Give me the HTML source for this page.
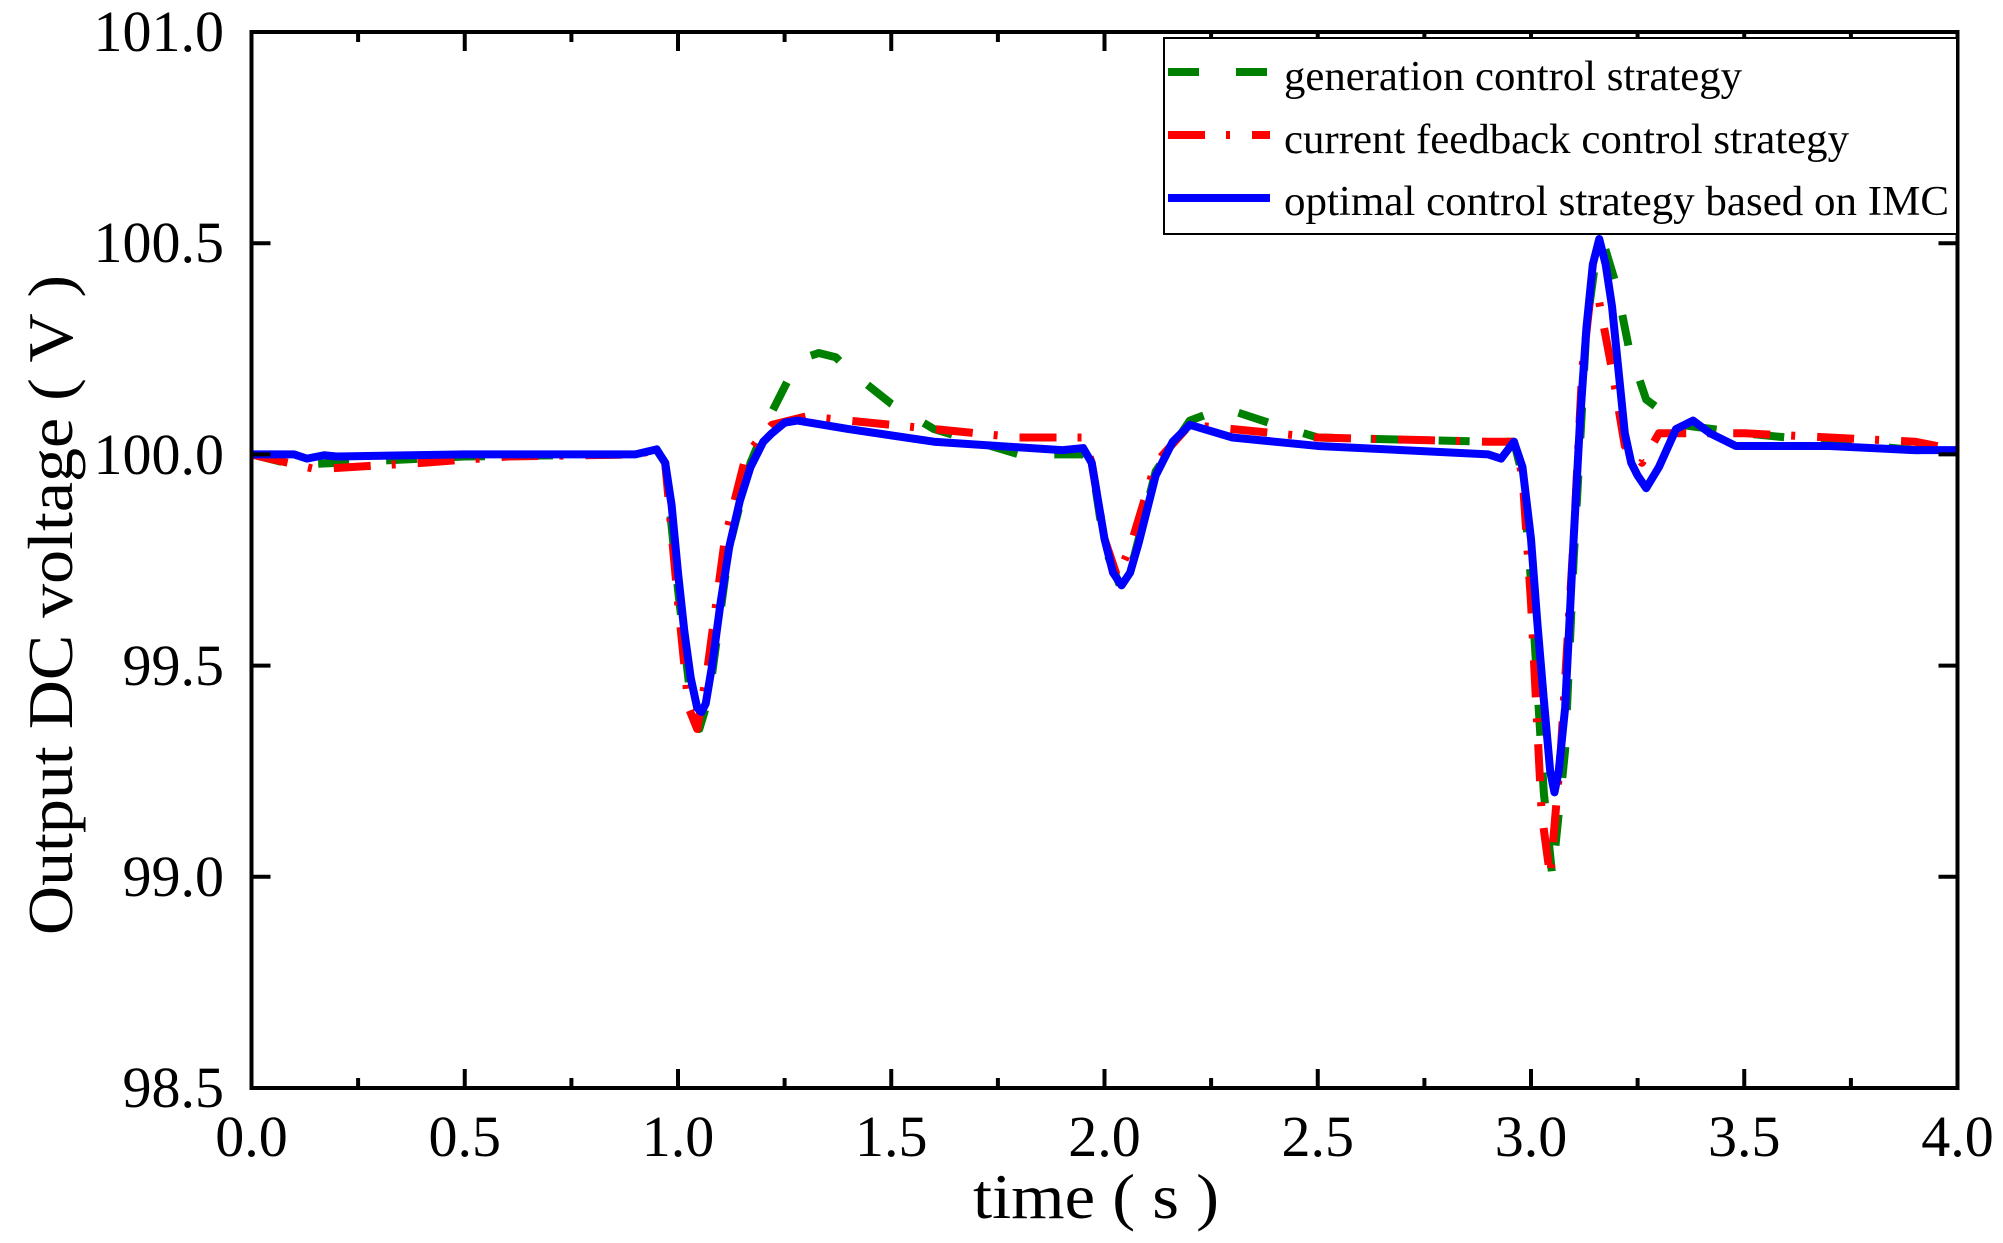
<!DOCTYPE html>
<html><head><meta charset="utf-8"><style>
html,body{margin:0;padding:0;background:#fff;}
svg{display:block;}
text{font-family:"Liberation Serif",serif;fill:#000;}
</style></head><body>
<svg width="2003" height="1243" viewBox="0 0 2003 1243" xmlns="http://www.w3.org/2000/svg">
<rect width="2003" height="1243" fill="#fff"/>
<g transform="translate(251.5,454.4) scale(426.5,-422.4) translate(0,-100)" fill="none" stroke-linejoin="round">
<polyline vector-effect="non-scaling-stroke" stroke="#008000" stroke-width="8" stroke-dasharray="31,37"
 points="0,100 0.1,99.975 0.2,99.98 0.5,99.995 0.9,100 0.95,100.01 0.97,99.98 1.0,99.68 1.03,99.42 1.05,99.35 1.065,99.4 1.08,99.48 1.12,99.78 1.17,99.98 1.22,100.1 1.27,100.2 1.3,100.23 1.33,100.24 1.37,100.23 1.4,100.2 1.5,100.12 1.6,100.06 1.8,100.0 1.95,100.0 1.97,99.98 2.0,99.78 2.04,99.68 2.07,99.76 2.12,99.96 2.2,100.08 2.28,100.11 2.4,100.07 2.5,100.04 2.9,100.03 2.96,100.03 2.98,99.95 3.0,99.7 3.03,99.2 3.05,99.0 3.08,99.3 3.1,99.75 3.13,100.3 3.15,100.45 3.17,100.5 3.2,100.4 3.23,100.25 3.27,100.13 3.35,100.07 3.5,100.05 3.7,100.03 3.9,100.01 4.0,100.01"/>
<polyline vector-effect="non-scaling-stroke" stroke="#ff0000" stroke-width="8" stroke-dasharray="37,21,4,22"
 points="0,100 0.15,99.965 0.4,99.98 0.6,99.995 0.9,100 0.95,100.01 0.97,99.98 1.0,99.65 1.025,99.4 1.045,99.35 1.07,99.5 1.11,99.8 1.16,100.0 1.22,100.07 1.3,100.09 1.5,100.07 1.8,100.04 1.95,100.04 1.97,99.98 2.0,99.8 2.03,99.71 2.06,99.78 2.12,99.98 2.2,100.07 2.5,100.04 2.9,100.03 2.96,100.03 2.98,99.95 3.0,99.65 3.025,99.15 3.045,99.0 3.07,99.3 3.1,99.8 3.12,100.2 3.14,100.38 3.16,100.36 3.19,100.2 3.22,100.02 3.26,99.98 3.3,100.05 3.5,100.05 3.9,100.03 4.0,100.01"/>
<polyline vector-effect="non-scaling-stroke" stroke="#0000ff" stroke-width="8"
 points="0,100 0.1,100 0.13,99.99 0.17,99.998 0.2,99.995 0.5,100 0.9,100 0.95,100.012 0.97,99.98 0.985,99.88 1.0,99.72 1.015,99.58 1.03,99.47 1.045,99.4 1.055,99.39 1.065,99.41 1.08,99.5 1.1,99.65 1.12,99.78 1.145,99.89 1.17,99.97 1.2,100.03 1.22,100.05 1.25,100.075 1.28,100.08 1.4,100.06 1.6,100.03 1.9,100.01 1.95,100.015 1.97,99.98 2.0,99.8 2.02,99.72 2.04,99.69 2.06,99.72 2.08,99.79 2.12,99.95 2.16,100.03 2.2,100.07 2.3,100.04 2.5,100.02 2.9,100.0 2.93,99.99 2.96,100.03 2.98,99.97 3.0,99.8 3.015,99.6 3.03,99.42 3.045,99.25 3.055,99.2 3.065,99.25 3.08,99.4 3.1,99.8 3.115,100.08 3.13,100.3 3.145,100.45 3.16,100.51 3.175,100.45 3.19,100.35 3.205,100.2 3.22,100.05 3.235,99.98 3.25,99.95 3.27,99.92 3.3,99.97 3.34,100.06 3.38,100.08 3.42,100.05 3.48,100.02 3.7,100.02 3.9,100.01 4.0,100.01"/>
</g>
<rect x="251.5" y="32" width="1706" height="1056" fill="none" stroke="#000" stroke-width="4"/>
<g stroke="#000" stroke-width="4">
<path d="M251.5 1088v-19M464.75 1088v-19M678 1088v-19M891.25 1088v-19M1104.5 1088v-19M1317.75 1088v-19M1531 1088v-19M1744.25 1088v-19
M251.5 32v19M464.75 32v19M678 32v19M891.25 32v19M1104.5 32v19M1317.75 32v19M1531 32v19M1744.25 32v19"/>
<path d="M358.1 1088v-10M571.4 1088v-10M784.6 1088v-10M997.9 1088v-10M1211.1 1088v-10M1424.4 1088v-10M1637.6 1088v-10M1850.9 1088v-10
M358.1 32v10M571.4 32v10M784.6 32v10M997.9 32v10M1211.1 32v10M1424.4 32v10M1637.6 32v10M1850.9 32v10"/>
<path d="M251.5 243.2h19M251.5 454.4h19M251.5 665.6h19M251.5 876.8h19
M1957.5 243.2h-19M1957.5 454.4h-19M1957.5 665.6h-19M1957.5 876.8h-19"/>
</g>
<g font-size="58" text-anchor="end">
<text x="224" y="51">101.0</text>
<text x="224" y="262">100.5</text>
<text x="224" y="474">100.0</text>
<text x="224" y="685">99.5</text>
<text x="224" y="896">99.0</text>
<text x="224" y="1107">98.5</text>
</g>
<g font-size="58" text-anchor="middle">
<text x="251.5" y="1156">0.0</text>
<text x="464.75" y="1156">0.5</text>
<text x="678" y="1156">1.0</text>
<text x="891.25" y="1156">1.5</text>
<text x="1104.5" y="1156">2.0</text>
<text x="1317.75" y="1156">2.5</text>
<text x="1531" y="1156">3.0</text>
<text x="1744.25" y="1156">3.5</text>
<text x="1957.5" y="1156">4.0</text>
</g>
<text x="1096" y="1218" font-size="64" text-anchor="middle" textLength="246" lengthAdjust="spacingAndGlyphs">time ( s )</text>
<text transform="translate(72,605) rotate(-90)" font-size="64" text-anchor="middle" textLength="660" lengthAdjust="spacingAndGlyphs">Output DC voltage ( V )</text>
<rect x="1164" y="38" width="793" height="196" fill="#fff" stroke="#000" stroke-width="2"/>
<g stroke-width="8">
<path d="M1168 72h31M1236 72h31" stroke="#008000"/>
<path d="M1168 135h37M1226 135h4M1252 135h18" stroke="#ff0000"/>
<path d="M1168 198h102" stroke="#0000ff"/>
</g>
<g font-size="42">
<text x="1284" y="90" textLength="458" lengthAdjust="spacingAndGlyphs">generation control strategy</text>
<text x="1284" y="153" textLength="565" lengthAdjust="spacingAndGlyphs">current feedback control strategy</text>
<text x="1284" y="215" textLength="665" lengthAdjust="spacingAndGlyphs">optimal control strategy based on IMC</text>
</g>
</svg>
</body></html>
